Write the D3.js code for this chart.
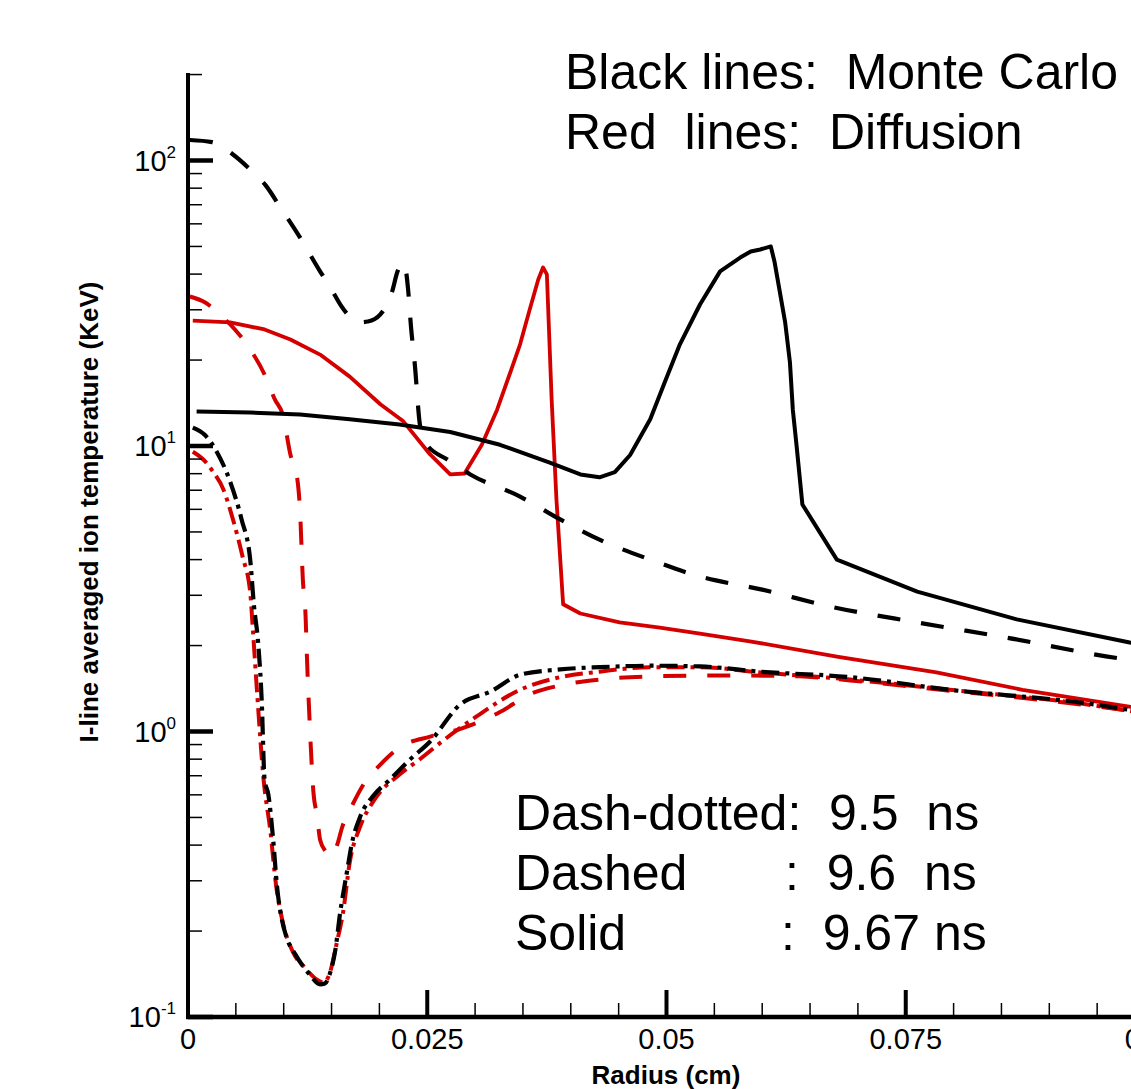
<!DOCTYPE html>
<html><head><meta charset="utf-8">
<script src="https://cdn.jsdelivr.net/npm/d3@7"></script>
<style>
body{margin:0;background:#fff;}
svg{display:block;}
text{font-family:"Liberation Sans",Arial,Helvetica,sans-serif;fill:#000;}
</style>
</head><body>
<svg id="c" width="1131" height="1089"></svg>
<script>
// ---- Data (radius in cm, temperature in KeV) ----
// Monte Carlo, 9.67 ns (black solid)
const mcSolidR = [0.0009,0.0065,0.0117,0.0169,0.0221,0.0274,0.0326,0.0378,0.0410,0.0430,0.0446,0.0462,0.0483,0.0499,0.0514,0.0535,0.0556,0.0577,0.0588,0.0598,0.0609,0.0613,0.0618,0.0624,0.0629,0.0632,0.0636,0.0642,0.0678,0.0762,0.0866,0.0984,0.1];
const mcSolidT = [13.2,13.1,12.9,12.4,11.9,11.2,10.1,8.75,7.95,7.77,8.1,9.3,12.4,17.0,22.7,31.3,40.9,45.7,48.0,48.8,50,44,35.3,27.1,19.6,13.4,9.96,6.24,4.0,3.09,2.47,2.05,2.02];
// Monte Carlo, 9.6 ns (black dashed)
const mcDashR = [0.0002,0.0025,0.0047,0.0065,0.0081,0.0096,0.0117,0.0138,0.0148,0.0162,0.0178,0.0188,0.0201,0.0213,0.0219,0.0224,0.0227,0.0230,0.0233,0.0237,0.0242,0.0246,0.0251,0.0271,0.0295,0.0347,0.0389,0.0430,0.0483,0.0535,0.0600,0.0671,0.0762,0.0856,0.0981,0.1];
const mcDashT = [118,116,105,93,82,69,53.8,40.9,36.3,30.3,27.1,27.3,28.9,34.5,40.9,43.9,42.3,35.3,26.2,19.3,12.1,10.5,9.96,8.97,7.95,6.65,5.53,4.70,4.0,3.49,3.14,2.74,2.41,2.13,1.79,1.76];
// Monte Carlo, 9.5 ns (black dash-dotted)
const mcDotR = [0.0005,0.0018,0.0030,0.0044,0.0056,0.0065,0.0069,0.0073,0.0077,0.0080,0.0084,0.0089,0.0093,0.0098,0.0103,0.0112,0.0127,0.0138,0.0143,0.0148,0.0154,0.0159,0.0166,0.0171,0.0180,0.0193,0.0211,0.0232,0.0253,0.0284,0.0316,0.0347,0.0389,0.0430,0.0483,0.0535,0.0598,0.0692,0.0796,0.0935,0.0985,0.1];
const mcDotT = [11.6,10.9,9.55,7.51,5.53,4.0,2.74,2.10,1.29,0.679,0.60,0.418,0.287,0.22,0.19,0.166,0.141,0.130,0.131,0.141,0.172,0.232,0.321,0.402,0.504,0.592,0.679,0.798,0.923,1.24,1.38,1.58,1.65,1.68,1.70,1.69,1.62,1.55,1.40,1.26,1.19,1.17];
// Diffusion, 9.67 ns (red solid)
const dfSolidR = [0.0005,0.0044,0.0080,0.0107,0.0138,0.0169,0.0201,0.0225,0.0253,0.0274,0.0289,0.0307,0.0323,0.0336,0.0347,0.0357,0.0366,0.0371,0.0375,0.0380,0.0385,0.0389,0.0392,0.0410,0.0451,0.0493,0.0535,0.0587,0.0678,0.0782,0.0872,0.0985,0.1];
const dfSolidT = [27.5,27.1,25.6,23.6,20.9,17.5,14.0,12.2,9.34,7.95,8.01,10.1,13.4,17.8,22.7,30.0,38.3,42.2,39.9,14.5,6.5,4.0,2.79,2.59,2.41,2.31,2.20,2.07,1.83,1.61,1.40,1.22,1.20];
// Diffusion, 9.6 ns (red dashed)
const dfDashR = [0.0002,0.0018,0.0033,0.0049,0.0065,0.0080,0.0091,0.0099,0.0107,0.0114,0.0117,0.0120,0.0123,0.0124,0.0127,0.0131,0.0135,0.0138,0.0144,0.0150,0.0156,0.0161,0.0172,0.0184,0.0201,0.0221,0.0253,0.0284,0.0326,0.0357,0.0389,0.0430,0.0483,0.0535,0.0587,0.0639,0.0692,0.0796,0.0901,0.0985,0.1];
const dfDashT = [33.4,31.8,28.9,25.6,21.8,17.8,14.5,12.9,9.34,7.76,5.98,3.41,2.47,1.94,1.10,0.616,0.504,0.418,0.380,0.365,0.402,0.461,0.555,0.658,0.766,0.879,0.960,1.02,1.17,1.35,1.45,1.52,1.56,1.57,1.57,1.56,1.51,1.39,1.28,1.18,1.16];
// Diffusion, 9.5 ns (red dash-dotted)
const dfDotR = [0.0005,0.0016,0.0026,0.0037,0.0047,0.0057,0.0065,0.0068,0.0072,0.0079,0.0086,0.0092,0.0099,0.0110,0.0122,0.0135,0.0142,0.0148,0.0155,0.0162,0.0169,0.0180,0.0195,0.0221,0.0242,0.0268,0.0300,0.0347,0.0389,0.0430,0.0483,0.0535,0.0598,0.0692,0.0796,0.0935,0.0985,0.1];
const dfDotT = [9.55,8.97,8.14,7.04,5.53,4.10,3.07,2.22,1.40,0.679,0.45,0.29,0.215,0.168,0.149,0.135,0.132,0.142,0.179,0.232,0.348,0.465,0.578,0.707,0.798,0.937,1.12,1.40,1.55,1.62,1.68,1.68,1.61,1.52,1.40,1.25,1.18,1.16];

const xMajorTicks = [0,0.025,0.05,0.075,0.1];
const xTickLabels = ["0","0.025","0.05","0.075","0.1"];
const yDecades = [0.1,1,10,100];
const yExponents = ["-1","0","1","2"];

const xTitle = "Radius (cm)";
const yTitle = "I-line averaged ion temperature (KeV)";

// ---- Drawing ----
const svg = d3.select("#c");
const x = d3.scaleLinear().domain([0,0.1]).range([188,1145]);
const y = d3.scaleLog().domain([0.1,200]).range([1017, 1017 - 285.5*Math.log10(2000)]);

const RED = "#d40000";
const series = [
  {r: dfDotR, t: dfDotT, color: RED, dash: "18,6,4,6", w: 4, curve: d3.curveMonotoneX},
  {r: dfDashR, t: dfDashT, color: RED, dash: "23,21", w: 4, curve: d3.curveMonotoneX},
  {r: dfSolidR, t: dfSolidT, color: RED, dash: null, w: 3.8, curve: d3.curveLinear},
  {r: mcDotR, t: mcDotT, color: "#000", dash: "18,6,4,6", w: 4.2, curve: d3.curveMonotoneX},
  {r: mcDashR, t: mcDashT, color: "#000", dash: "23,21", w: 4.2, curve: d3.curveMonotoneX},
  {r: mcSolidR, t: mcSolidT, color: "#000", dash: null, w: 4, curve: d3.curveLinear}
];
series.forEach(s => {
  const line = d3.line().x(d => x(d[0])).y(d => y(d[1])).curve(s.curve);
  const pts = s.r.map((r,i) => [r, s.t[i]]);
  svg.append("path").attr("d", line(pts)).attr("fill","none")
    .attr("stroke", s.color).attr("stroke-width", s.w)
    .attr("stroke-dasharray", s.dash).attr("stroke-linejoin","round");
});

// axes
const ax = svg.append("g");
ax.append("line").attr("x1", x(0)).attr("x2", x(0)).attr("y1", 73).attr("y2", y(0.1)+2)
  .attr("stroke","#000").attr("stroke-width",4);
ax.append("line").attr("x1", x(0)-2).attr("x2", x(0.1)).attr("y1", y(0.1)).attr("y2", y(0.1))
  .attr("stroke","#000").attr("stroke-width",4.5);

// y ticks
const yMinor = [];
yDecades.forEach(d => { for (let k=2;k<=9;k++){ const v=k*d; if (v<=200.001) yMinor.push(v);} });
ax.selectAll(".ymin").data(yMinor).enter().append("line")
  .attr("x1", x(0)).attr("x2", x(0)+14).attr("y1", d=>y(d)).attr("y2", d=>y(d))
  .attr("stroke","#000").attr("stroke-width",1.5);
ax.selectAll(".ymaj").data(yDecades).enter().append("line")
  .attr("x1", x(0)).attr("x2", x(0)+25).attr("y1", d=>y(d)).attr("y2", d=>y(d))
  .attr("stroke","#000").attr("stroke-width",4.5);
const yl = ax.selectAll(".ylab").data(yDecades).enter().append("text")
  .attr("x", 176).attr("y", d=>y(d)+10).attr("text-anchor","end");
yl.append("tspan").attr("font-size",29).text("10");
yl.append("tspan").attr("font-size",17).attr("dy",-13).text((d,i)=>yExponents[i]);

// x ticks
const xMinor = d3.range(0, 0.1001, 0.005).filter(v => Math.abs(v/0.025 - Math.round(v/0.025)) > 1e-6);
ax.selectAll(".xmin").data(xMinor).enter().append("line")
  .attr("x1", d=>x(d)).attr("x2", d=>x(d)).attr("y1", y(0.1)).attr("y2", y(0.1)-14)
  .attr("stroke","#000").attr("stroke-width",1.5);
ax.selectAll(".xmaj").data(xMajorTicks).enter().append("line")
  .attr("x1", d=>x(d)).attr("x2", d=>x(d)).attr("y1", y(0.1)).attr("y2", y(0.1)-27)
  .attr("stroke","#000").attr("stroke-width",4);
ax.selectAll(".xlab").data(xMajorTicks).enter().append("text")
  .attr("x", d=>x(d)).attr("y", 1049).attr("text-anchor","middle").attr("font-size",29)
  .text((d,i)=>xTickLabels[i]);

// titles
svg.append("text").attr("transform","translate(98,512) rotate(-90)")
  .attr("text-anchor","middle").attr("font-size",26).attr("font-weight","bold").text(yTitle);
svg.append("text").attr("x",666).attr("y",1084)
  .attr("text-anchor","middle").attr("font-size",26).attr("font-weight","bold").text(xTitle);

// annotations
const note = (tx, ty, str) => svg.append("text").attr("x",tx).attr("y",ty)
  .attr("font-size",50).style("white-space","pre").text(str);
note(565, 89, "Black lines:  Monte Carlo");
note(565, 149, "Red  lines:  Diffusion");
note(515, 830, "Dash-dotted:  9.5  ns");
note(515, 890, "Dashed");
note(785, 890, ":  9.6  ns");
note(515, 950, "Solid");
note(781, 950, ":  9.67 ns");
</script>
</body></html>
